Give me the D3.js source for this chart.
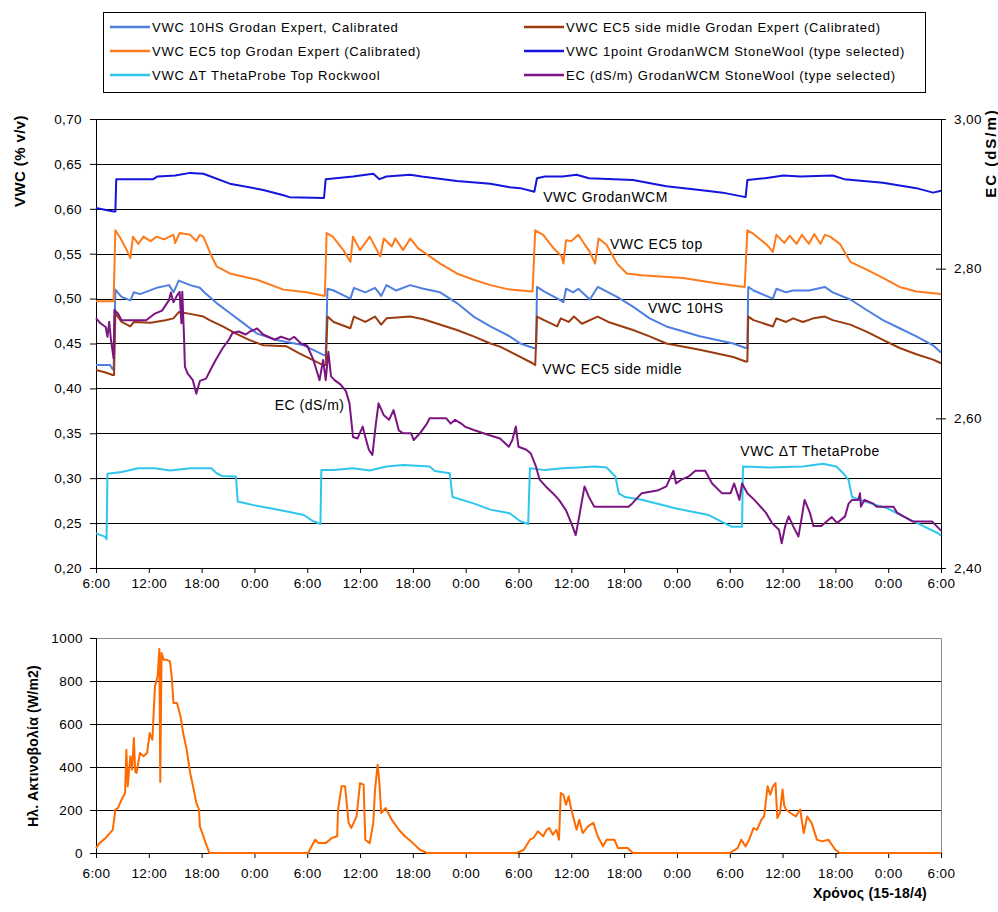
<!DOCTYPE html>
<html>
<head>
<meta charset="utf-8">
<script src="https://cdn.jsdelivr.net/npm/d3@7"></script>
<style>
  body { margin: 0; background: #fff; }
  svg { display: block; }
  text { font-family: "Liberation Sans", Arial, sans-serif; fill: #000; }
</style>
</head>
<body>
<svg id="chart" width="998" height="912"></svg>
<script>
// Time axis: hours since 6:00 on 15/4, ticks every 6 h over four days
const timeTicks = [0, 6, 12, 18, 24, 30, 36, 42, 48, 54, 60, 66, 72, 78, 84, 90, 96];
const timeLabels = ["6:00","12:00","18:00","0:00","6:00","12:00","18:00","0:00","6:00",
                    "12:00","18:00","0:00","6:00","12:00","18:00","0:00","6:00"];
const vwcTicks = [0.20, 0.25, 0.30, 0.35, 0.40, 0.45, 0.50, 0.55, 0.60, 0.65, 0.70];
const ecTicks = [2.40, 2.60, 2.80, 3.00];
const radTicks = [0, 200, 400, 600, 800, 1000];

// Series as [hour, value]
const vwc10HS = [[0,0.426],[1.6,0.426],[1.9,0.421],[2.0,0.421],[2.2,0.510],[2.9,0.502],[3.9,0.498],[4.3,0.507],[5.0,0.505],[6.9,0.512],[8.3,0.515],[8.8,0.507],[9.4,0.520],[10.7,0.515],[11.8,0.512],[12.3,0.507],[13.7,0.495],[15.2,0.484],[16.7,0.473],[18.3,0.461],[20.5,0.454],[23.6,0.448],[25.9,0.437],[26.1,0.437],[26.3,0.511],[27,0.509],[28.9,0.500],[29.3,0.512],[30.6,0.507],[31.7,0.512],[32.4,0.503],[33,0.515],[34.1,0.509],[35.7,0.515],[37.2,0.511],[39.1,0.507],[41,0.495],[42.9,0.480],[44.8,0.469],[47,0.458],[48.2,0.450],[49.7,0.445],[50.0,0.445],[50.1,0.513],[50.9,0.508],[52.8,0.498],[53.1,0.496],[53.4,0.511],[54.2,0.507],[54.8,0.511],[56.1,0.499],[57,0.513],[59.2,0.502],[61,0.491],[62.9,0.478],[64.8,0.469],[68.6,0.458],[72.4,0.450],[73.8,0.445],[74.0,0.445],[74.1,0.513],[74.7,0.509],[76.9,0.500],[77.3,0.511],[78.4,0.507],[79.2,0.509],[81,0.509],[82.8,0.513],[83.7,0.507],[85.7,0.499],[87.6,0.487],[89.4,0.476],[91.3,0.467],[93.2,0.458],[95.1,0.448],[96,0.440]];

const vwcEC5side = [[0,0.4205],[1.0,0.418],[1.9,0.415],[2.05,0.415],[2.2,0.484],[2.9,0.474],[3.9,0.469],[4.3,0.474],[6.2,0.473],[7.9,0.476],[8.8,0.478],[9.4,0.485],[10.7,0.483],[12.2,0.480],[12.9,0.476],[14.4,0.469],[15.9,0.461],[17.4,0.454],[19,0.448],[21.6,0.447],[23.1,0.439],[25.8,0.426],[26.1,0.426],[26.3,0.480],[27,0.474],[28.9,0.467],[29.3,0.480],[30.6,0.474],[31.7,0.480],[32.4,0.471],[33.0,0.478],[35.7,0.480],[37.2,0.477],[41,0.465],[42.9,0.458],[44.8,0.450],[45.9,0.4465],[49.6,0.428],[49.9,0.426],[50.1,0.480],[50.9,0.476],[52.4,0.469],[52.8,0.478],[53.7,0.474],[54.3,0.480],[55.2,0.472],[57,0.480],[58.2,0.474],[61,0.465],[62.9,0.458],[64.8,0.450],[68.6,0.443],[72.4,0.435],[73.8,0.430],[74.0,0.430],[74.1,0.480],[74.7,0.476],[76.9,0.469],[77.3,0.478],[78.4,0.474],[79.2,0.478],[80.3,0.474],[81.5,0.478],[82.8,0.480],[83.7,0.476],[85.7,0.471],[87.6,0.463],[89.4,0.454],[91.3,0.445],[93.2,0.438],[95.1,0.432],[96,0.428]];

const vwcEC5top = [[0,0.497],[2.0,0.497],[2.2,0.576],[2.8,0.567],[3.5,0.554],[3.9,0.545],[4.2,0.569],[4.8,0.561],[5.4,0.569],[6.2,0.564],[6.9,0.569],[7.7,0.566],[8.8,0.571],[9.0,0.562],[9.5,0.573],[10.7,0.571],[11.4,0.564],[11.8,0.571],[12.2,0.569],[13,0.550],[13.7,0.536],[15.2,0.528],[18.3,0.521],[21.3,0.510],[23.9,0.507],[26.0,0.503],[26.2,0.573],[26.9,0.569],[28.1,0.554],[28.9,0.541],[29.2,0.569],[30,0.554],[31.1,0.569],[32.3,0.547],[32.7,0.567],[33.6,0.558],[34,0.567],[34.9,0.554],[35.7,0.567],[36.6,0.556],[39.1,0.539],[41,0.528],[42.9,0.521],[44.8,0.515],[47,0.510],[49.6,0.508],[49.9,0.576],[50.8,0.571],[52,0.556],[52.9,0.547],[53.1,0.539],[53.4,0.565],[54,0.564],[54.8,0.571],[55.2,0.565],[56.1,0.552],[56.7,0.539],[57.1,0.567],[58,0.560],[59.2,0.539],[60.3,0.528],[62,0.526],[66.7,0.523],[70.5,0.517],[73.7,0.513],[74,0.576],[74.7,0.572],[76.2,0.560],[76.9,0.552],[77.3,0.571],[78.2,0.562],[78.8,0.570],[79.6,0.561],[80.2,0.571],[81,0.561],[81.6,0.572],[82.3,0.561],[82.8,0.571],[83.4,0.569],[84.5,0.561],[85.7,0.541],[87.6,0.532],[89.4,0.523],[91.3,0.513],[93.2,0.508],[96,0.505]];

const vwcWCM = [[0,0.601],[1,0.599],[2.0,0.597],[2.2,0.597],[2.3,0.633],[6.5,0.633],[7,0.636],[9,0.637],[10.7,0.640],[12.2,0.639],[15.2,0.628],[19,0.621],[21.3,0.615],[22,0.613],[25.9,0.612],[26.1,0.633],[29.2,0.636],[31.5,0.639],[32.2,0.633],[33,0.636],[35.7,0.638],[37,0.636],[41,0.631],[44.8,0.628],[47,0.624],[48.2,0.623],[49.8,0.619],[50.1,0.634],[51,0.636],[53,0.636],[54.6,0.638],[56,0.634],[61,0.632],[64.8,0.625],[68.6,0.621],[71.2,0.618],[73.8,0.613],[74,0.632],[76,0.634],[78.1,0.637],[80,0.636],[83.7,0.637],[85,0.633],[89.4,0.629],[93.2,0.623],[95.1,0.618],[96,0.620]];

const vwcTheta = [[0,0.2386],[1.0,0.235],[1.2,0.232],[1.3,0.305],[2.9,0.307],[4.8,0.311],[6.7,0.311],[8.4,0.3085],[10.7,0.311],[13.1,0.311],[13.7,0.3055],[14.3,0.3025],[15.9,0.302],[16.1,0.274],[17.9,0.270],[19.8,0.2665],[21.7,0.263],[23.6,0.259],[24.7,0.252],[25.5,0.249],[25.6,0.309],[27,0.309],[29.2,0.311],[31.1,0.3085],[33,0.313],[34.9,0.3147],[37.9,0.313],[38.5,0.308],[40.2,0.3055],[40.5,0.279],[42.9,0.272],[44.8,0.265],[47,0.261],[48.2,0.252],[49.1,0.249],[49.3,0.311],[51,0.309],[53,0.311],[54.8,0.312],[56.7,0.313],[58,0.312],[58.4,0.308],[59,0.302],[59.4,0.283],[60.1,0.279],[62,0.276],[65.8,0.2665],[69.6,0.259],[71.4,0.250],[72.2,0.246],[73.4,0.246],[73.5,0.313],[76.5,0.312],[80.3,0.313],[82.6,0.316],[84.1,0.313],[84.9,0.3055],[85.5,0.298],[85.9,0.279],[88,0.272],[89.9,0.2665],[91.8,0.257],[93.7,0.248],[95.6,0.239],[96,0.236]];

const ecWCM = [[0,2.734],[0.5,2.727],[1.1,2.722],[1.3,2.709],[1.5,2.729],[1.7,2.705],[2.0,2.680],[2.1,2.745],[2.5,2.740],[2.9,2.731],[5.7,2.731],[6.7,2.740],[7.5,2.744],[8.3,2.758],[8.5,2.768],[8.8,2.755],[9.2,2.764],[9.5,2.769],[9.7,2.727],[9.8,2.769],[10.0,2.709],[10.1,2.669],[10.4,2.660],[11.0,2.651],[11.4,2.633],[11.8,2.650],[12.5,2.653],[13.1,2.667],[13.6,2.678],[14.4,2.694],[14.9,2.702],[15.1,2.705],[15.5,2.714],[16.2,2.716],[17,2.712],[17.5,2.716],[18.3,2.720],[19,2.712],[20.3,2.705],[21,2.709],[22,2.705],[22.5,2.709],[23.3,2.700],[24.0,2.697],[24.7,2.678],[25.4,2.651],[25.8,2.678],[26.1,2.651],[26.4,2.689],[26.7,2.656],[27.1,2.651],[27.8,2.645],[28.4,2.636],[28.8,2.620],[29.2,2.575],[29.7,2.573],[30.3,2.589],[30.6,2.575],[31,2.558],[31.4,2.551],[31.8,2.593],[32.1,2.620],[32.7,2.604],[33.3,2.598],[33.8,2.611],[34.4,2.584],[34.9,2.580],[35.8,2.580],[36.1,2.571],[36.8,2.580],[37.6,2.593],[37.9,2.600],[39.8,2.600],[40.3,2.593],[40.8,2.598],[41.5,2.593],[41.9,2.589],[43,2.584],[44.8,2.577],[45.9,2.573],[46.9,2.562],[47.3,2.571],[47.7,2.589],[48.0,2.562],[48.9,2.558],[49.4,2.553],[50,2.535],[50.4,2.518],[51.1,2.509],[51.9,2.500],[52.6,2.491],[53.4,2.477],[54,2.460],[54.5,2.444],[54.9,2.469],[55.5,2.509],[56,2.495],[56.6,2.482],[60.5,2.482],[60.9,2.486],[62,2.500],[63.9,2.504],[64.8,2.509],[65.6,2.530],[65.9,2.513],[66.5,2.518],[67.3,2.522],[68.1,2.530],[69.2,2.530],[70,2.513],[71.1,2.500],[72.1,2.500],[72.5,2.513],[73.1,2.491],[73.4,2.513],[74,2.500],[74.8,2.491],[76.1,2.474],[76.8,2.460],[77.6,2.451],[77.9,2.433],[78.3,2.456],[78.7,2.469],[79.2,2.456],[79.8,2.442],[80.2,2.469],[80.5,2.491],[81.1,2.474],[81.5,2.456],[82.4,2.456],[83.6,2.468],[84.2,2.460],[85.1,2.469],[85.5,2.486],[85.9,2.491],[86.6,2.491],[86.8,2.500],[86.9,2.482],[87.3,2.491],[88.3,2.486],[88.7,2.482],[90.6,2.482],[91,2.474],[92.8,2.462],[95,2.462],[96,2.450]];

const radiation = [[0,23],[0.4,46],[1.1,70],[1.9,108],[2.2,200],[2.5,210],[2.9,248],[3.3,279],[3.45,480],[3.6,310],[3.9,450],[4.1,388],[4.3,535],[4.45,380],[4.6,372],[5.0,465],[5.4,450],[5.8,465],[6.1,558],[6.4,527],[6.7,775],[7.0,822],[7.2,949],[7.3,330],[7.45,930],[7.7,899],[8.0,899],[8.4,891],[8.6,822],[8.8,698],[9.2,698],[9.6,636],[9.9,558],[10.3,481],[10.7,372],[11.1,295],[11.4,233],[11.7,202],[11.8,124],[12.2,78],[12.6,31],[12.9,0],[24.1,0],[24.5,31],[24.9,62],[25.3,46],[26.1,46],[26.8,70],[27.4,78],[27.5,200],[27.9,310],[28.3,310],[28.7,140],[29.0,116],[29.6,170],[30.0,325],[30.4,318],[30.6,62],[31.1,46],[31.5,140],[31.7,295],[32.0,411],[32.2,325],[32.4,186],[32.9,209],[33.6,155],[34.4,108],[35.1,78],[36.0,46],[36.8,15],[37.6,0],[47.8,0],[48.6,15],[49.3,62],[49.7,70],[50.2,101],[50.8,78],[51.2,108],[51.5,116],[51.9,85],[52.3,108],[52.6,62],[52.8,279],[53.1,271],[53.4,225],[53.7,264],[54.0,202],[54.6,108],[54.9,155],[55.3,93],[55.9,124],[56.5,140],[57.0,78],[57.6,31],[58.0,62],[58.9,62],[59.3,23],[60.4,23],[61,0],[72,0],[72.9,23],[73.3,62],[73.8,31],[74.2,62],[74.7,116],[75.1,108],[75.6,155],[75.9,170],[76.3,310],[76.6,271],[76.9,310],[77.2,325],[77.4,163],[77.7,186],[78.0,295],[78.2,217],[78.4,202],[78.9,186],[79.5,170],[80.0,202],[80.4,93],[80.8,170],[81.3,140],[81.9,62],[82.5,54],[83.2,62],[84,15],[84.5,0],[96,0]];

const svg = d3.select("#chart");

// ---- layout ----
const L = 96, R = 941;
const topY0 = 119, topY1 = 568;
const botY0 = 638, botY1 = 853;

const x = d3.scaleLinear().domain([0, 96]).range([L, R]);
const yV = d3.scaleLinear().domain([0.20, 0.70]).range([topY1, topY0]);
const yEC = d3.scaleLinear().domain([2.40, 3.00]).range([topY1, topY0]);
const yR = d3.scaleLinear().domain([0, 1000]).range([botY1, botY0]);

const comma = d => d.toFixed(2).replace(".", ",");
const styleAxis = a => {
  a.select(".domain").attr("stroke", "#000");
  a.selectAll(".tick line").attr("stroke", "#000");
  a.selectAll("text").attr("font-size", 13.5).attr("letter-spacing", 0.4)
    .attr("font-family", "Liberation Sans, Arial, sans-serif").attr("fill", "#000");
};

// ---- legend ----
const legendItems = [
  { name: "VWC 10HS Grodan Expert, Calibrated", color: "#4f7fe0", col: 0, row: 0 },
  { name: "VWC EC5 side midle Grodan Expert (Calibrated)", color: "#9a3b10", col: 1, row: 0 },
  { name: "VWC EC5 top Grodan Expert (Calibrated)", color: "#ff7a1a", col: 0, row: 1 },
  { name: "VWC 1point GrodanWCM StoneWool (type selected)", color: "#1414dc", col: 1, row: 1 },
  { name: "VWC ΔT ThetaProbe Top Rockwool", color: "#2ec6ec", col: 0, row: 2 },
  { name: "EC (dS/m) GrodanWCM StoneWool (type selected)", color: "#7b1582", col: 1, row: 2 }
];
const lg = svg.append("g");
lg.append("rect").attr("x", 103.5).attr("y", 12.5).attr("width", 822).attr("height", 80)
  .attr("fill", "#fff").attr("stroke", "#000").attr("stroke-width", 1);
const colX = [110, 524];
legendItems.forEach(it => {
  const gx = colX[it.col], gy = 27 + it.row * 24;
  lg.append("line").attr("x1", gx).attr("x2", gx + 40).attr("y1", gy).attr("y2", gy)
    .attr("stroke", it.color).attr("stroke-width", 2.5);
  lg.append("text").attr("x", gx + 42).attr("y", gy + 4.5).attr("font-size", 13)
    .attr("letter-spacing", 0.75).text(it.name);
});

// ---- top chart ----
const topG = svg.append("g");
topG.append("g").selectAll("line").data(vwcTicks).join("line")
  .attr("x1", L).attr("x2", R).attr("y1", d => Math.round(yV(d)) + 0.5).attr("y2", d => Math.round(yV(d)) + 0.5)
  .attr("stroke", "#000").attr("stroke-width", 1);

const leftAxis = topG.append("g").attr("transform", `translate(${L},0)`)
  .call(d3.axisLeft(yV).tickValues(vwcTicks).tickFormat(comma).tickSize(6).tickPadding(8));
const rightAxis = topG.append("g").attr("transform", `translate(${R},0)`)
  .call(d3.axisRight(yEC).tickValues(ecTicks).tickFormat(comma).tickSize(5).tickPadding(8));
rightAxis.selectAll(".tick line").attr("x1", -5);
const topXAxis = topG.append("g").attr("transform", `translate(0,${topY1})`)
  .call(d3.axisBottom(x).tickValues(timeTicks).tickFormat((d, i) => timeLabels[i]).tickSize(5).tickPadding(5));
[leftAxis, rightAxis, topXAxis].forEach(styleAxis);

const lineV = d3.line().x(d => x(d[0])).y(d => yV(d[1]));
const lineEC = d3.line().x(d => x(d[0])).y(d => yEC(d[1]));

const drawSeries = (data, gen, color) =>
  topG.append("path").datum(data).attr("d", gen).attr("fill", "none")
    .attr("stroke", color).attr("stroke-width", 2).attr("stroke-linejoin", "round");

drawSeries(vwcTheta, lineV, "#2ec6ec");
drawSeries(vwc10HS, lineV, "#4f7fe0");
drawSeries(vwcEC5side, lineV, "#9a3b10");
drawSeries(vwcEC5top, lineV, "#ff7a1a");
drawSeries(vwcWCM, lineV, "#1414dc");
drawSeries(ecWCM, lineEC, "#7b1582");

// series labels inside the plot
const notes = [
  { t: "VWC GrodanWCM", h: 50.8, v: 0.6076, bg: false },
  { t: "VWC EC5 top", h: 58.4, v: 0.5555, bg: true },
  { t: "VWC 10HS", h: 62.7, v: 0.4835, bg: true },
  { t: "VWC EC5 side midle", h: 50.7, v: 0.4155, bg: false },
  { t: "EC (dS/m)", h: 20.3, v: 0.3755, bg: false },
  { t: "VWC ΔT ThetaProbe", h: 73.2, v: 0.3245, bg: false }
];
notes.forEach(n => {
  const tx = topG.append("text").attr("x", x(n.h)).attr("y", yV(n.v)).attr("font-size", 14)
    .attr("letter-spacing", 0.5).text(n.t);
  if (n.bg) {
    const b = tx.node().getBBox();
    topG.insert("rect", () => tx.node()).attr("x", b.x + 10).attr("y", b.y + 2)
      .attr("width", b.width - 8).attr("height", b.height - 2).attr("fill", "#fff");
  }
});

svg.append("text").attr("transform", `translate(24.5,161) rotate(-90)`).attr("text-anchor", "middle")
  .attr("font-size", 15).attr("font-weight", "bold").attr("letter-spacing", 0.4).text("VWC (%  v/v)");
svg.append("text").attr("transform", `translate(995.5,153) rotate(-90)`).attr("text-anchor", "middle")
  .attr("font-size", 15).attr("font-weight", "bold").attr("letter-spacing", 2).text("EC (dS/m)");

// ---- bottom chart ----
const botG = svg.append("g");
botG.append("g").selectAll("line").data(radTicks.slice(1, -1)).join("line")
  .attr("x1", L).attr("x2", R).attr("y1", d => Math.round(yR(d)) + 0.5).attr("y2", d => Math.round(yR(d)) + 0.5)
  .attr("stroke", "#000").attr("stroke-width", 1);
botG.append("path")
  .attr("d", `M${L},${Math.round(yR(1000)) + 0.5}H${R + 0.5}V${botY1}`)
  .attr("fill", "none").attr("stroke", "#8a8a8a").attr("stroke-width", 1);

const radLeft = botG.append("g").attr("transform", `translate(${L},0)`)
  .call(d3.axisLeft(yR).tickValues(radTicks).tickFormat(d3.format("d")).tickSize(6).tickPadding(7));
const radX = botG.append("g").attr("transform", `translate(0,${botY1})`)
  .call(d3.axisBottom(x).tickValues(timeTicks).tickFormat((d, i) => timeLabels[i]).tickSize(5).tickPadding(10));
[radLeft, radX].forEach(styleAxis);

const lineR = d3.line().x(d => x(d[0])).y(d => yR(d[1]));
botG.append("path").datum(radiation).attr("d", lineR).attr("fill", "none")
  .attr("stroke", "#ff6a00").attr("stroke-width", 2).attr("stroke-linejoin", "round");

svg.append("text").attr("transform", `translate(37.5,746) rotate(-90)`).attr("text-anchor", "middle")
  .attr("font-size", 14).attr("font-weight", "bold").attr("letter-spacing", 0.2).text("Ηλ. Ακτινοβολία (W/m2)");
svg.append("text").attr("x", 927).attr("y", 898).attr("text-anchor", "end")
  .attr("font-size", 14).attr("font-weight", "bold").attr("letter-spacing", 0.2).text("Χρόνος (15-18/4)");
</script>
</body>
</html>
